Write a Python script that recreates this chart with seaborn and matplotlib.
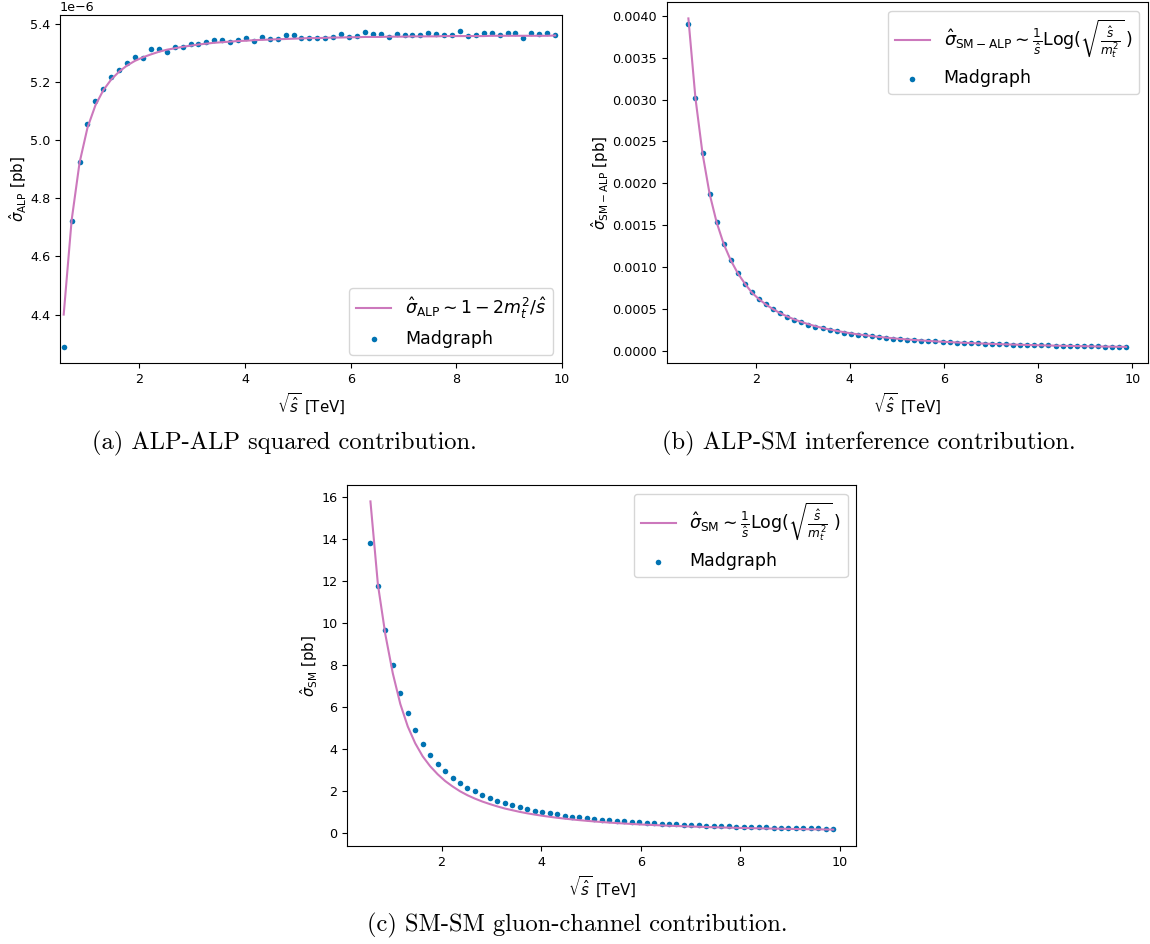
import numpy as np
import matplotlib
matplotlib.use("Agg")
import matplotlib.pyplot as plt
import seaborn as sns

# ---------------- data ----------------
sqrt_s = [0.57, 0.72, 0.87, 1.02, 1.17, 1.32, 1.47, 1.62, 1.77, 1.92,
          2.07, 2.22, 2.37, 2.52, 2.67, 2.82, 2.97, 3.12, 3.27, 3.42,
          3.57, 3.72, 3.87, 4.02, 4.17, 4.32, 4.47, 4.62, 4.77, 4.92,
          5.07, 5.22, 5.37, 5.52, 5.67, 5.82, 5.97, 6.12, 6.27, 6.42,
          6.57, 6.72, 6.87, 7.02, 7.17, 7.32, 7.47, 7.62, 7.77, 7.92,
          8.07, 8.22, 8.37, 8.52, 8.67, 8.82, 8.97, 9.12, 9.27, 9.42,
          9.57, 9.72, 9.87]

# (a) ALP-ALP, in units of 1e-6 pb
alp_madgraph = [4.287, 4.722, 4.924, 5.054, 5.133, 5.175, 5.216, 5.242, 5.263, 5.286,
                5.283, 5.313, 5.313, 5.303, 5.320, 5.321, 5.329, 5.331, 5.335, 5.345,
                5.342, 5.338, 5.342, 5.349, 5.341, 5.353, 5.347, 5.346, 5.361, 5.362,
                5.350, 5.351, 5.349, 5.349, 5.355, 5.363, 5.355, 5.357, 5.370, 5.363,
                5.363, 5.353, 5.365, 5.362, 5.360, 5.361, 5.367, 5.363, 5.361, 5.360,
                5.375, 5.357, 5.359, 5.368, 5.367, 5.359, 5.366, 5.366, 5.352, 5.367,
                5.365, 5.366, 5.362]
alp_theory = [4.400, 4.724, 4.922, 5.042, 5.119, 5.171, 5.208, 5.235, 5.256, 5.272,
              5.284, 5.294, 5.303, 5.310, 5.315, 5.320, 5.324, 5.328, 5.331, 5.334,
              5.336, 5.338, 5.340, 5.341, 5.343, 5.344, 5.345, 5.346, 5.347, 5.348,
              5.349, 5.350, 5.350, 5.351, 5.352, 5.352, 5.353, 5.353, 5.354, 5.354,
              5.354, 5.355, 5.355, 5.355, 5.356, 5.356, 5.356, 5.356, 5.357, 5.357,
              5.357, 5.357, 5.357, 5.357, 5.358, 5.358, 5.358, 5.358, 5.358, 5.358,
              5.358, 5.358, 5.359]

# (b) SM-ALP interference [pb]
int_madgraph = [0.003909, 0.003017, 0.002357, 0.001875, 0.001533, 0.001274, 0.001079,
                0.000924, 0.000800, 0.000701, 0.000621, 0.000554, 0.000498,
                0.000448, 0.000406, 0.000371, 0.000339, 0.000311, 0.000287, 0.000267,
                0.000247, 0.000231, 0.000215, 0.000203, 0.000191, 0.000180, 0.000171,
                0.000161, 0.000152, 0.000144, 0.000137, 0.000131, 0.000125, 0.000119,
                0.000114, 0.000109, 0.000104, 0.000100, 0.000096, 0.000092, 0.000088,
                0.000085, 0.000082, 0.000079, 0.000076, 0.000074, 0.000071, 0.000069,
                0.000067, 0.000065, 0.000063, 0.000061, 0.000059, 0.000057, 0.000056,
                0.000054, 0.000053, 0.000051, 0.000050, 0.000048, 0.000047, 0.000045,
                0.000044]
int_theory = [0.003970, 0.003017, 0.002357, 0.001875, 0.001533, 0.001274, 0.001079,
              0.000924, 0.000800, 0.000692, 0.000614, 0.000549, 0.000494, 0.000447,
              0.000407, 0.000372, 0.000342, 0.000315, 0.000291, 0.000270, 0.000252,
              0.000235, 0.000220, 0.000206, 0.000194, 0.000183, 0.000173, 0.000163,
              0.000155, 0.000147, 0.000139, 0.000133, 0.000126, 0.000121, 0.000115,
              0.000110, 0.000105, 0.000101, 0.0000968, 0.0000930, 0.0000894, 0.0000859,
              0.0000827, 0.0000796, 0.0000767, 0.0000741, 0.0000716, 0.0000691,
              0.0000668, 0.0000647, 0.0000625, 0.0000605, 0.0000587, 0.0000569,
              0.0000552, 0.0000535, 0.0000520, 0.0000506, 0.0000491, 0.0000477,
              0.0000464, 0.0000452, 0.0000440]

# (c) SM-SM gluon channel [pb]
sm_madgraph = [13.79, 11.76, 9.66, 8.00, 6.69, 5.70, 4.89, 4.25, 3.74, 3.30,
               2.95, 2.64, 2.38, 2.16, 1.99, 1.83, 1.68, 1.53, 1.42, 1.33,
               1.23, 1.14, 1.06, 1.01, 0.96, 0.90, 0.84, 0.79, 0.76, 0.72,
               0.68, 0.65, 0.62, 0.60, 0.57, 0.55, 0.52, 0.51, 0.48, 0.46,
               0.44, 0.43, 0.41, 0.40, 0.38, 0.36, 0.35, 0.34, 0.33, 0.32,
               0.31, 0.30, 0.29, 0.285, 0.275, 0.27, 0.255, 0.25, 0.24, 0.235,
               0.23, 0.22, 0.22]
sm_theory = [15.78, 11.83, 9.45, 7.60, 6.15, 5.08, 4.28, 3.66, 3.19, 2.81,
             2.49, 2.23, 2.00, 1.81, 1.65, 1.51, 1.39, 1.28, 1.18, 1.10,
             1.02, 0.953, 0.892, 0.837, 0.787, 0.741, 0.700, 0.662, 0.627, 0.595,
             0.565, 0.538, 0.512, 0.489, 0.467, 0.446, 0.427, 0.409, 0.393, 0.377,
             0.362, 0.349, 0.335, 0.323, 0.312, 0.301, 0.290, 0.280, 0.271, 0.262,
             0.254, 0.246, 0.238, 0.231, 0.224, 0.217, 0.211, 0.205, 0.199, 0.194,
             0.188, 0.183, 0.178]

labels_theory = [r'$\hat{\sigma}_{\mathrm{ALP}} \sim 1 - 2m_t^2/\hat{s}$',
                 r'$\hat{\sigma}_{\mathrm{SM-ALP}} \sim \frac{1}{\hat{s}}\mathrm{Log}(\sqrt{\frac{\hat{s}}{m_t^2}}\,)$',
                 r'$\hat{\sigma}_{\mathrm{SM}} \sim \frac{1}{\hat{s}}\mathrm{Log}(\sqrt{\frac{\hat{s}}{m_t^2}}\,)$']
ylabels = [r'$\hat{\sigma}_{\mathrm{ALP}}$ [pb]',
           r'$\hat{\sigma}_{\mathrm{SM-ALP}}$ [pb]',
           r'$\hat{\sigma}_{\mathrm{SM}}$ [pb]']
xlabel = r'$\sqrt{\hat{s}}$ [TeV]'
captions = ['(a) ALP-ALP squared contribution.',
            '(b) ALP-SM interference contribution.',
            '(c) SM-SM gluon-channel contribution.']

# ---------------- style ----------------
LINE_COLOR = '#cc78bc'
DOT_COLOR = '#0173b2'
plt.rcParams['xtick.labelsize'] = 9.2
plt.rcParams['ytick.labelsize'] = 9.2
plt.rcParams['axes.labelsize'] = 10.8

W, H = 1150, 944
fig = plt.figure(figsize=(W / 100, H / 100), dpi=100)


def box(l, r, t, b):
    return [l / W, 1 - b / H, (r - l) / W, (b - t) / H]


ax_a = fig.add_axes(box(60, 562, 15, 363.3))
ax_b = fig.add_axes(box(666.5, 1148, 2, 363.3))
ax_c = fig.add_axes(box(347.3, 856.4, 485, 846))

x = np.array(sqrt_s)
panels = [
    (ax_a, np.array(alp_theory) * 1e-6, np.array(alp_madgraph) * 1e-6, 'lower right'),
    (ax_b, np.array(int_theory), np.array(int_madgraph), 'upper right'),
    (ax_c, np.array(sm_theory), np.array(sm_madgraph), 'upper right'),
]

for i, (ax, th, mg, loc) in enumerate(panels):
    sns.lineplot(x=x, y=th, ax=ax, color=LINE_COLOR, linewidth=1.5,
                 label=labels_theory[i], sort=False, estimator=None)
    sns.scatterplot(x=x, y=mg, ax=ax, color=DOT_COLOR, s=16, linewidth=0,
                    label='Madgraph')
    ax.set_xlabel(xlabel)
    ax.set_ylabel(ylabels[i], labelpad=1.0)
    ax.legend(loc=loc, fontsize=12.5)

ax_a.set_xlim(0.5, 10.0)
ax_a.set_xticks([2, 4, 6, 8, 10])

fig.text(284 / W, 1 - 443 / H, captions[0], ha='center', va='center',
         family='cmr10', fontsize=17.6)
fig.text(868.5 / W, 1 - 443 / H, captions[1], ha='center', va='center',
         family='cmr10', fontsize=17.6)
fig.text(577 / W, 1 - 925 / H, captions[2], ha='center', va='center',
         family='cmr10', fontsize=17.6)

fig.savefig('out.png', dpi=100)
